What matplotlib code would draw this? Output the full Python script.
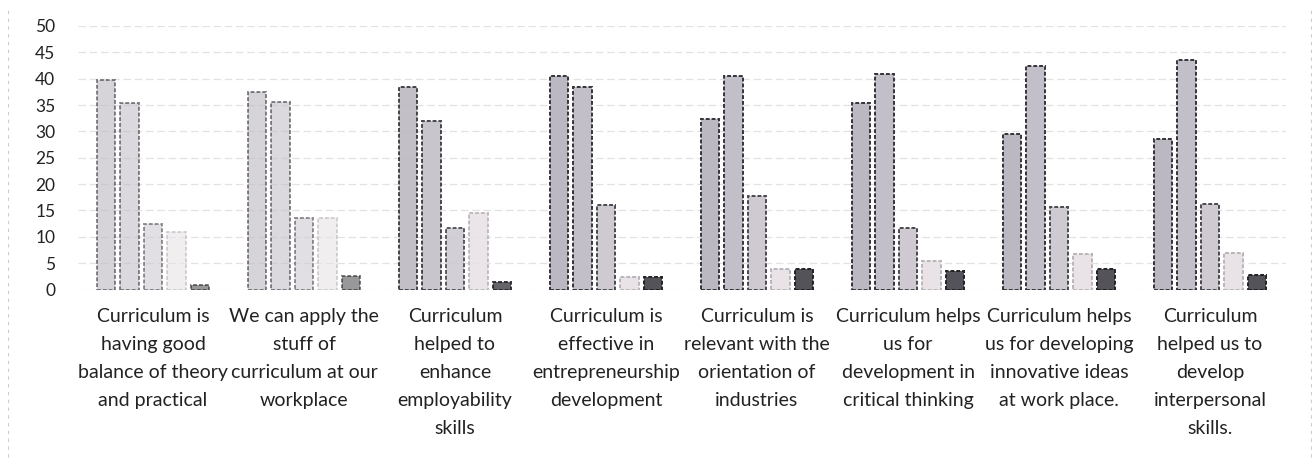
import matplotlib
matplotlib.use("Agg")
import matplotlib.pyplot as plt
import numpy as np
from matplotlib.lines import Line2D

categories = [
    "Curriculum is\nhaving good\nbalance of theory\nand practical",
    "We can apply the\nstuff of\ncurriculum at our\nworkplace",
    "Curriculum\nhelped to\nenhance\nemployability\nskills",
    "Curriculum is\neffective in\nentrepreneurship\ndevelopment",
    "Curriculum is\nrelevant with the\norientation of\nindustries",
    "Curriculum helps\nus for\ndevelopment in\ncritical thinking",
    "Curriculum helps\nus for developing\ninnovative ideas\nat work place.",
    "Curriculum\nhelped us to\ndevelop\ninterpersonal\nskills.",
]
series1 = [39.7, 37.5, 38.5, 40.6, 32.3, 35.3, 29.6, 28.6]
series2 = [35.3, 35.5, 32.0, 38.5, 40.5, 40.8, 42.4, 43.6]
series3 = [12.4, 13.5, 11.7, 16.0, 17.7, 11.6, 15.6, 16.3]
series4 = [11.0, 13.5, 14.5, 2.3, 3.8, 5.5, 6.8, 6.9]
series5 = [0.8, 2.5, 1.5, 2.3, 3.8, 3.6, 3.8, 2.8]
yticks = [0, 5, 10, 15, 20, 25, 30, 35, 40, 45, 50]

series = [series1, series2, series3, series4, series5]
fills = ["#bcb8c1", "#c3bfc8", "#cfcad2", "#e9e3e7", "#545359"]
edges = ["#35343a", "#35343a", "#4a494f", "#b9b5ba", "#222226"]
group_alpha = [0.6, 0.6, 0.9, 1, 1, 1, 1, 1]

W, H = 1316, 466
fig = plt.figure(figsize=(W / 100, H / 100), dpi=100)
ax = fig.add_axes([77.5 / W, (H - 289.5) / H, 1208 / W, (289.5 - 26) / H])

x = np.arange(len(categories))
pitch, bw = 0.156, 0.12
for j, vals in enumerate(series):
    for i, v in enumerate(vals):
        ax.bar(x[i] + (j - 2) * pitch, v, width=bw, color=fills[j],
               edgecolor=edges[j], linewidth=1.4, linestyle=(0, (2, 1)),
               alpha=group_alpha[i], zorder=3)

ax.set_xlim(-0.5, len(categories) - 0.5)
ax.set_ylim(0, 50)
ax.set_yticks(yticks)
ax.set_yticklabels([str(t) for t in yticks], family="Lato", fontsize=12.5,
                   color="#222222")
ax.set_xticks(x)
ax.set_xticklabels(categories, family="Lato", fontsize=14, color="#222222",
                   linespacing=1.79, va="top")
ax.tick_params(axis="both", length=0)
ax.tick_params(axis="y", pad=16)
ax.tick_params(axis="x", pad=13.5)
for s in ax.spines.values():
    s.set_visible(False)
ax.yaxis.grid(True, color="#e2e2e2", linewidth=0.9, linestyle=(0, (6, 3)), zorder=0)
ax.set_axisbelow(True)

fig.add_artist(Line2D([8 / W, 8 / W], [0.02, 0.98], color="#cccccc",
                      linewidth=0.8, linestyle=(0, (3, 4))))
fig.add_artist(Line2D([1311 / W, 1311 / W], [0.02, 0.98], color="#cccccc",
                      linewidth=0.8, linestyle=(0, (3, 4))))

fig.savefig("out.png", dpi=100)
